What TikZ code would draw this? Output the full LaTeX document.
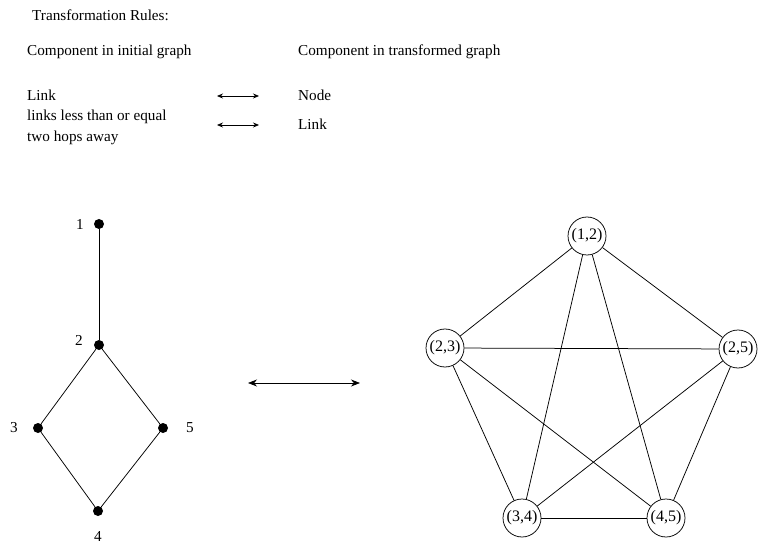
\documentclass[tikz,border=0pt]{standalone}
\usepackage{fontspec}
\setmainfont{Liberation Serif}
\usepackage{tikz}
\usetikzlibrary{arrows.meta}
\tikzset{
  txtnode/.style={anchor=west,inner sep=0pt,font=\fontsize{15.2}{21}\selectfont},
  dotnode/.style={circle,fill=black,minimum size=10pt,inner sep=0pt},
  numlbl/.style={inner sep=0pt,font=\fontsize{15.2}{18}\selectfont},
  pairnode/.style={circle,draw=black,line width=0.75pt,minimum size=38pt,inner sep=0pt,font=\fontsize{16}{18}\selectfont},
  grline/.style={black,line width=0.75pt},
  ruleedge/.style={{Stealth[length=6pt,width=5pt]}-{Stealth[length=6pt,width=5pt]},line width=0.75pt},
}
\begin{document}
\begin{tikzpicture}[x=1pt,y=-1pt]
  \useasboundingbox (0,0) rectangle (758,548);
  % rules
  \node[txtnode] (tTitle) at (32,15) {Transformation Rules:};
  \node[txtnode] (tInit) at (27,52) {Component in initial graph};
  \node[txtnode] (tTrans) at (298,52) {Component in transformed graph};
  \node[txtnode] (tLink) at (27,95) {Link};
  \node[txtnode] (tNode) at (298,95) {Node};
  \node[txtnode,align=left] (tHops) at (27,127) {links less than or equal\\two hops away};
  \node[txtnode] (tLink2) at (298,124) {Link};
  \coordinate (rA1) at (217,96);
  \coordinate (rA2) at (259,96);
  \coordinate (rB1) at (217,125);
  \coordinate (rB2) at (259,125);
  \draw[ruleedge] (rA1) -- (rA2);
  \draw[ruleedge] (rB1) -- (rB2);
  % initial graph
  \node[dotnode] (n1) at (99,224) {};
  \node[dotnode] (n2) at (99,345) {};
  \node[dotnode] (n3) at (38,428) {};
  \node[dotnode] (n5) at (163,428) {};
  \node[dotnode] (n4) at (98,511) {};
  \node[numlbl] (l1) at (80,224) {1};
  \node[numlbl] (l2) at (79,340) {2};
  \node[numlbl] (l3) at (14,428) {3};
  \node[numlbl] (l5) at (190,428) {5};
  \node[numlbl] (l4) at (98,536) {4};
  \draw[grline] (n1) -- (n2);
  \draw[grline] (n2) -- (n3);
  \draw[grline] (n2) -- (n5);
  \draw[grline] (n3) -- (n4);
  \draw[grline] (n5) -- (n4);
  % transformation
  \coordinate (bigL) at (248,383);
  \coordinate (bigR) at (360,383);
  \draw[{Stealth[length=9pt,width=7pt]}-{Stealth[length=9pt,width=7pt]},line width=0.75pt] (bigL) -- (bigR);
  % transformed graph
  \node[pairnode] (p12) at (587,236) {(1,2)};
  \node[pairnode] (p23) at (445,348) {(2,3)};
  \node[pairnode] (p25) at (738,349) {(2,5)};
  \node[pairnode] (p34) at (522,518) {(3,4)};
  \node[pairnode] (p45) at (666,518) {(4,5)};
  \foreach \a/\b in {p12/p23,p12/p25,p12/p34,p12/p45,p23/p25,p23/p34,p23/p45,p25/p34,p25/p45,p34/p45}
    \draw[grline] (\a) -- (\b);
\end{tikzpicture}
\end{document}
